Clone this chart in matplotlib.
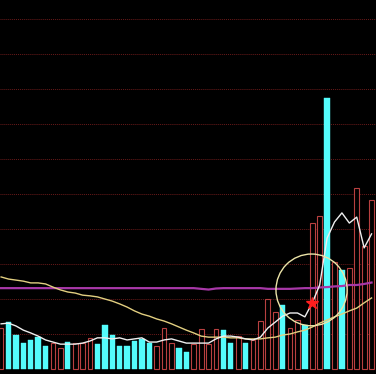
import matplotlib
matplotlib.use('Agg')
import matplotlib.pyplot as plt
from matplotlib.patches import Ellipse
import numpy as np

# volumes (one unit = one grid step)
vol = [1.17, 1.34, 0.97, 0.74, 0.83, 0.91, 0.66, 0.74, 0.60, 0.77,
       0.74, 0.74, 0.89, 0.71, 1.26, 0.97, 0.66, 0.66, 0.80, 0.86,
       0.74, 0.66, 1.17, 0.74, 0.60, 0.49, 0.71, 1.14, 0.71, 1.14,
       1.11, 0.74, 0.94, 0.74, 0.83, 1.37, 2.00, 1.63, 1.83, 1.17,
       1.40, 1.26, 4.17, 4.37, 7.74, 3.06, 2.83, 2.89, 5.17, 3.51, 4.83]
# 1 = up day (hollow red), 0 = down day (cyan)
up = [1, 0, 0, 0, 0, 0, 0, 1, 1, 0,
      1, 1, 1, 0, 0, 0, 0, 0, 0, 0,
      0, 1, 1, 1, 0, 0, 1, 1, 1, 1,
      0, 0, 1, 0, 1, 1, 1, 1, 0, 1,
      1, 0, 1, 1, 0, 1, 0, 1, 1, 1, 1]
ma_white = [1.29, 1.31, 1.23, 1.11, 1.03, 0.94, 0.83, 0.77, 0.71, 0.71,
            0.71, 0.74, 0.80, 0.89, 0.89, 0.86, 0.89, 0.83, 0.86, 0.89,
            0.77, 0.77, 0.83, 0.86, 0.80, 0.74, 0.74, 0.74, 0.74, 0.86,
            0.94, 0.94, 0.91, 0.86, 0.83, 0.91, 1.17, 1.34, 1.51, 1.60,
            1.60, 1.49, 1.89, 2.40, 3.74, 4.20, 4.46, 4.17, 4.34, 3.46, 3.86]
ma_yellow = [2.63, 2.57, 2.54, 2.51, 2.46, 2.46, 2.43, 2.34, 2.26, 2.20,
             2.17, 2.11, 2.09, 2.06, 2.00, 1.94, 1.86, 1.77, 1.66, 1.57,
             1.51, 1.43, 1.37, 1.29, 1.20, 1.11, 1.03, 0.94, 0.91, 0.91,
             0.91, 0.89, 0.89, 0.86, 0.86, 0.86, 0.89, 0.91, 0.97, 1.00,
             1.06, 1.11, 1.20, 1.31, 1.40, 1.49, 1.57, 1.66, 1.74, 1.89, 2.03]
ma_magenta = [2.31] * 27 + [2.29, 2.27, 2.30, 2.31, 2.31, 2.31, 2.31, 2.31, 2.31,
                            2.29, 2.29, 2.29, 2.29, 2.30, 2.31, 2.31, 2.33, 2.34,
                            2.36, 2.37, 2.40, 2.40, 2.43, 2.47]
mark_idx = 42

x = np.arange(len(vol))
fig = plt.figure(figsize=(3.76, 3.74), dpi=100, facecolor='black')
ax = fig.add_axes([0, 0, 1, 1])
ax.set_facecolor('black')

# dotted grid
for g in range(1, 11):
    ax.axhline(g, color='#6a1a1a', linestyle=(0, (1, 1)), linewidth=0.7, zorder=1)

for xi, v, u in zip(x, vol, up):
    if u:
        ax.bar(xi, v, width=0.64, facecolor='black', edgecolor='#b84040', linewidth=0.8, zorder=2)
    else:
        ax.bar(xi, v, width=0.72, color='#54fcfc', edgecolor='#54fcfc', linewidth=0.3, zorder=2)

ax.plot(x, ma_magenta, color='#a838a8', linewidth=1.6, zorder=3)
ax.plot(x, ma_yellow, color='#e2cf80', linewidth=1.0, zorder=4)
ax.plot(x, ma_white, color='#eeeeee', linewidth=1.0, zorder=5)

ax.add_patch(Ellipse((41.9, 2.26), 9.6, 2.05, fill=False, edgecolor='#ece4a8', linewidth=1.0, zorder=6))
ax.plot(mark_idx, ma_white[mark_idx], marker='*', color='#ff1e1e', markersize=9, zorder=7)

ax.set_xlim(-0.15, 50.6)
ax.set_ylim(-0.143, 10.543)
ax.axis('off')
fig.savefig('out.png', dpi=100, facecolor='black')
